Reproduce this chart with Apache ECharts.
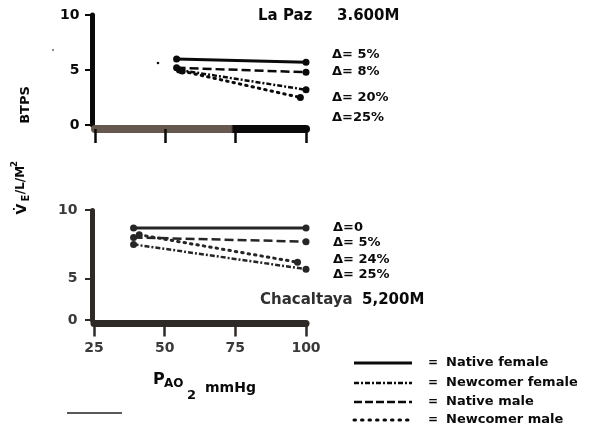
<!DOCTYPE html>
<html><head><meta charset="utf-8">
<script src="https://cdn.jsdelivr.net/npm/echarts@6/dist/echarts.min.js"></script>
<style>html,body{margin:0;padding:0;background:#fff}#c{width:595px;height:437px}</style>
</head><body><div id="c"></div>
<script>
// ---------- data ----------
const xTicks = [25, 50, 75, 100];
const yTicks = [0, 5, 10];
const seriesNames = ['Native female', 'Newcomer female', 'Native male', 'Newcomer male'];

// La Paz 3.600 M (top panel)
const laPazNativeFemalePAO2 = [54, 100];
const laPazNativeFemaleVE   = [6.0, 5.7];
const laPazNewcomerFemalePAO2 = [55, 100];
const laPazNewcomerFemaleVE   = [5.0, 3.2];
const laPazNativeMalePAO2 = [54, 100];
const laPazNativeMaleVE   = [5.2, 4.8];
const laPazNewcomerMalePAO2 = [56, 98];
const laPazNewcomerMaleVE   = [4.9, 2.5];
const laPazDeltas = ['Δ= 5%', 'Δ= 8%', 'Δ= 20%', 'Δ=25%'];

// Chacaltaya 5,200 M (bottom panel)
const chacNativeFemalePAO2 = [39, 100];
const chacNativeFemaleVE   = [8.7, 8.7];
const chacNewcomerFemalePAO2 = [39, 100];
const chacNewcomerFemaleVE   = [7.5, 5.7];
const chacNativeMalePAO2 = [39, 100];
const chacNativeMaleVE   = [8.0, 7.7];
const chacNewcomerMalePAO2 = [41, 97];
const chacNewcomerMaleVE   = [8.2, 6.2];
const chacDeltas = ['Δ=0', 'Δ= 5%', 'Δ= 24%', 'Δ= 25%'];

// ---------- styles ----------
const FONT = 'DejaVu Sans';
const ink = ['#0a0a0a', '#262626'];
const lineStyles = {
  'Native female':   { type: 'solid', dash: null, width: 3, cap: 'butt' },
  'Newcomer female': { type: [5, 2, 2, 2], dash: [5, 2, 2, 2], width: 2.5, cap: 'butt' },
  'Native male':     { type: [9, 4], dash: [8, 3], width: 2.5, cap: 'butt' },
  'Newcomer male':   { type: [1.5, 5], dash: [1.5, 6], width: 3, cap: 'round' }
};

function pts(xs, ys) { return xs.map((x, i) => [x, ys[i]]); }
function mk(name, panel, xs, ys) {
  const s = lineStyles[name];
  return {
    name, type: 'line', xAxisIndex: panel, yAxisIndex: panel,
    data: pts(xs, ys), symbol: 'circle', symbolSize: 7, clip: false,
    lineStyle: { color: ink[panel], width: s.width, type: s.type, cap: s.cap },
    itemStyle: { color: ink[panel] }, silent: true
  };
}

const series = [
  mk('Native female', 0, laPazNativeFemalePAO2, laPazNativeFemaleVE),
  mk('Newcomer female', 0, laPazNewcomerFemalePAO2, laPazNewcomerFemaleVE),
  mk('Native male', 0, laPazNativeMalePAO2, laPazNativeMaleVE),
  mk('Newcomer male', 0, laPazNewcomerMalePAO2, laPazNewcomerMaleVE),
  mk('Native female', 1, chacNativeFemalePAO2, chacNativeFemaleVE),
  mk('Newcomer female', 1, chacNewcomerFemalePAO2, chacNewcomerFemaleVE),
  mk('Native male', 1, chacNativeMalePAO2, chacNativeMaleVE),
  mk('Newcomer male', 1, chacNewcomerMalePAO2, chacNewcomerMaleVE)
];

function txt(x, y, text, size, opts) {
  opts = opts || {};
  return {
    type: 'text', x, y, rotation: opts.rot || 0, silent: true,
    style: {
      text, fill: opts.color || '#0a0a0a',
      font: (opts.weight || 'bold') + ' ' + size + 'px "' + FONT + '"',
      align: opts.align || 'left', verticalAlign: 'middle'
    }
  };
}

const graphic = [];
// panel titles
graphic.push(txt(258, 16, 'La Paz', 15));
graphic.push(txt(337, 16, '3.600M', 15));
graphic.push(txt(260, 300, 'Chacaltaya', 15, { color: '#303030' }));
graphic.push(txt(362, 300, '5,200M', 15));
// deltas
const topDeltaY = [55, 72, 98, 118];
laPazDeltas.forEach((d, i) => graphic.push(txt(332, topDeltaY[i], d, 13)));
const botDeltaY = [228, 243, 260, 275];
chacDeltas.forEach((d, i) => graphic.push(txt(333, botDeltaY[i], d, 13)));
// x axis title
graphic.push(txt(153, 380, 'P', 16));
graphic.push(txt(164, 384, 'AO', 12));
graphic.push(txt(187, 396, '2', 13));
graphic.push(txt(205, 388, 'mmHg', 14));
// y axis title (rotated)
const R = Math.PI / 2;
graphic.push(txt(26, 105, 'BTPS', 13, { rot: R, align: 'center' }));
graphic.push(txt(22, 209, 'V\u0307', 14, { rot: R, align: 'center' }));
graphic.push(txt(26, 198, 'E', 10, { rot: R, align: 'center' }));
graphic.push(txt(21, 180, '/L/M', 12, { rot: R, align: 'center' }));
graphic.push(txt(15, 164, '2', 9, { rot: R, align: 'center' }));
// legend
const legY = [363, 383, 402, 420];
seriesNames.forEach((n, i) => {
  const s = lineStyles[n];
  graphic.push({
    type: 'line', silent: true,
    shape: { x1: 354, y1: legY[i], x2: 412, y2: legY[i] },
    style: { stroke: '#0a0a0a', lineWidth: s.width, lineDash: s.dash, lineCap: s.cap }
  });
  graphic.push(txt(428, legY[i], '=', 12));
  graphic.push(txt(446, legY[i], n, 13));
});
// stray scan marks
graphic.push({ type: 'line', silent: true, shape: { x1: 67, y1: 413, x2: 122, y2: 413 }, style: { stroke: '#222', lineWidth: 1.5 } });
graphic.push({ type: 'circle', silent: true, shape: { cx: 158, cy: 63, r: 1.3 }, style: { fill: '#111' } });
graphic.push({ type: 'circle', silent: true, shape: { cx: 53, cy: 50, r: 0.9 }, style: { fill: '#555' } });

const topBar = {
  type: 'linear', x: 0, y: 0, x2: 1, y2: 0,
  colorStops: [
    { offset: 0, color: '#66574f' }, { offset: 0.64, color: '#66574f' },
    { offset: 0.65, color: '#0a0a0a' }, { offset: 1, color: '#0a0a0a' }
  ]
};

const labelBase = { fontFamily: FONT, fontWeight: 'bold', fontSize: 14 };

const option = {
  animation: false,
  backgroundColor: '#ffffff',
  grid: [
    { left: 95, top: 15, width: 211, height: 110 },
    { left: 94, top: 210, width: 212, height: 110 }
  ],
  xAxis: [
    {
      gridIndex: 0, type: 'value', min: xTicks[0], max: xTicks[xTicks.length - 1], interval: 25, offset: 4,
      axisLine: { show: true, onZero: false, lineStyle: { color: topBar, width: 8 } },
      axisTick: { show: true, length: 14, lineStyle: { color: '#0a0a0a', width: 2.5 } },
      axisLabel: { show: false }, splitLine: { show: false }
    },
    {
      gridIndex: 1, type: 'value', min: xTicks[0], max: xTicks[xTicks.length - 1], interval: 25, offset: 3.5,
      axisLine: { show: true, onZero: false, lineStyle: { color: '#2e2a27', width: 7 } },
      axisTick: { show: true, length: 13, lineStyle: { color: '#2e2a27', width: 2.5 } },
      axisLabel: Object.assign({ margin: 18, color: '#3a3a3a', customValues: xTicks }, labelBase),
      splitLine: { show: false }
    }
  ],
  yAxis: [
    {
      gridIndex: 0, type: 'value', min: 0, max: 10, interval: 5, offset: 2.5,
      axisLine: { show: true, onZero: false, lineStyle: { color: '#0a0a0a', width: 5 } },
      axisTick: { show: true, length: 7.5, lineStyle: { color: '#0a0a0a', width: 2 } },
      axisLabel: Object.assign({ margin: 13, color: '#0a0a0a' }, labelBase),
      splitLine: { show: false }
    },
    {
      gridIndex: 1, type: 'value', min: 0, max: 10, interval: 5, offset: 1.5,
      breaks: [{ start: 1, end: 3, gap: 0 }],
      breakArea: { show: false },
      axisLine: { show: true, onZero: false, lineStyle: { color: '#2e2a27', width: 5 } },
      axisTick: { show: true, length: 7.5, customValues: yTicks, lineStyle: { color: '#2e2a27', width: 2 } },
      axisLabel: Object.assign({ margin: 15, color: '#3a3a3a', customValues: yTicks }, labelBase),
      splitLine: { show: false }
    }
  ],
  series,
  graphic
};

const chart = echarts.init(document.getElementById('c'), null, { renderer: 'canvas' });
chart.setOption(option);
</script>
</body></html>
